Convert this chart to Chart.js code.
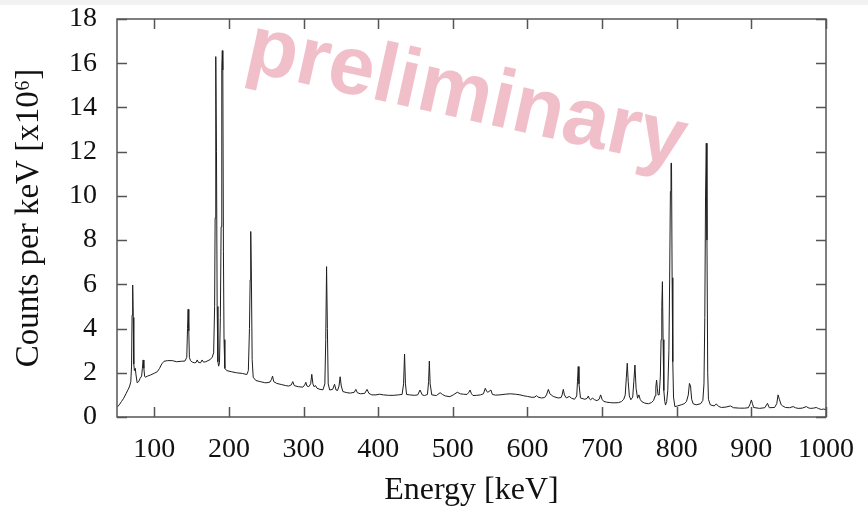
<!DOCTYPE html>
<html><head><meta charset="utf-8">
<script src="https://cdn.jsdelivr.net/npm/chart.js@4/dist/chart.umd.min.js"></script>
<style>html,body{margin:0;padding:0;background:#fff;overflow:hidden}#wrap{width:868px;height:510px}</style>
</head><body><div id="wrap"><canvas id="c" width="868" height="510"></canvas></div>
<script>
// Energy [keV] and counts per keV [x10^6]
const energy = [
50,53,56,59,62,65,67,68.5,69.5,70.2,71,71.8,72.5,73.3,74.5,75.5,77,79,81,83,84,85,86,87,88,91,95,100,104,107,110,113,118,124,130,136,141,143.5,144.5,145.3,146.2,147,148.5,151,154,156,157.5,159,162,164,166,169,172,175,177.5,179.5,180.8,181.5,182.1,182.6,183.3,184.2,185.2,186.2,187.3,188.5,189.5,190.4,191.1,191.8,192.6,193.4,194.5,197,203,210,218,224,226,227.5,228.4,229.2,230.1,231.1,232.5,236,242,248,
251,255,257,258.4,260,264,270,276,280,283.5,285.5,287.5,293,299,301.5,303,304.5,307,309.5,311,312.5,314,316,318,322,326,328.5,329.7,330.8,331.9,333,335,339,341.5,343.5,345.5,347.5,349,350.5,352.7,358,362.5,368,370,372,376,382,385,387.5,391.5,397,402,407,414,420,427,432,434,435.3,436.5,438,442,449,453,456,459,462,466,467.5,468.5,469.6,471.8,478,483,486,490,496,
500.5,506,510,514,519,521.5,523,525,527,532,537,541,543.5,545.5,547,551,553,557,563,570,577,584,590,595,600,606,610,612,614,619,623,625.5,628,630,634.5,641,645,646.5,648,649.5,652,656,659,663,666,667,668,669,671,677,680,681.5,683,684.6,687,690,693,696,698,700,702,706,711,716,722,726,729,731,732.5,733.7,735,736.5,738.5,741,742.5,744,745.5,747.5,749.3,
751,753,757,762,766,769,771,772,773,774,775,776.5,778,779,780,780.8,781.7,782.7,784,785,786.5,788,789.5,790.5,791.5,792.3,793,793.8,794.7,795.7,797.5,801,806,810,813,815.5,817,818.5,820,822,826,832,835,836.5,837.6,838.6,839.6,840.5,841.5,842.5,845,850,853,856,860,866,872,876,884,891,896,898.5,900,901.5,903,911,918,921.6,924,931,934,935.8,937.5,940,942,945.7,951,956,959,962.6,968,973.8,976,979,983,987,990,993.8,997,1000
];
const counts = [
0.44,0.55,0.7,0.85,1.05,1.25,1.4,1.6,2.3,4.6,5.97,4.5,2.4,2.1,2.2,1.9,1.55,1.6,1.75,1.85,2.2,2.58,2.2,1.85,1.8,1.85,1.9,1.98,2.05,2.2,2.4,2.52,2.55,2.55,2.5,2.52,2.53,2.7,4.0,4.87,3.9,2.7,2.55,2.48,2.45,2.47,2.58,2.47,2.45,2.58,2.48,2.5,2.55,2.6,2.7,2.9,5.0,9.0,14.5,16.3,12.0,5.0,2.5,2.3,2.45,4.5,8.6,15.8,16.57,15.7,7.5,3.5,2.2,2.1,2.05,2.0,1.97,1.92,2.1,4.0,6.2,8.39,6.2,2.6,1.8,1.65,1.6,1.55,
1.55,1.58,1.7,1.85,1.6,1.52,1.47,1.42,1.4,1.45,1.6,1.42,1.37,1.35,1.45,1.57,1.4,1.37,1.5,1.93,1.5,1.37,1.42,1.3,1.25,1.23,1.5,3.5,6.8,4.0,1.5,1.22,1.25,1.48,1.22,1.2,1.4,1.82,1.4,1.15,1.1,1.08,1.12,1.25,1.1,1.05,1.07,1.25,1.07,1.0,1.0,1.03,1.0,0.98,0.98,1.0,1.02,1.5,2.85,1.5,1.02,1.0,0.98,1.0,1.22,1.0,0.97,1.02,1.6,2.53,1.5,1.0,0.97,1.1,1.02,0.95,0.92,
1.0,1.12,1.05,1.03,1.02,1.12,1.22,1.05,0.97,0.98,1.0,1.05,1.3,1.15,1.12,1.22,1.02,0.99,1.0,1.03,1.05,1.03,1.0,0.96,0.93,0.89,0.9,0.97,0.9,0.86,0.88,1.0,1.25,1.05,0.93,0.86,0.88,1.0,1.25,1.0,0.86,0.93,0.85,0.8,0.95,1.6,2.28,1.5,0.86,0.8,0.85,0.95,0.82,0.77,0.86,0.78,0.74,0.8,1.0,0.8,0.71,0.67,0.65,0.64,0.65,0.7,0.8,1.0,1.8,2.43,1.6,0.95,0.78,0.9,1.6,2.35,1.3,0.85,1.0,
0.8,0.7,0.63,0.6,0.65,0.75,0.95,1.35,1.67,1.3,1.0,1.0,1.8,3.5,5.0,6.12,3.5,1.2,0.7,0.54,0.7,1.2,3.0,6.2,10.2,11.48,11.48,6.3,2.5,0.9,0.47,0.5,0.55,0.6,0.7,1.0,1.52,1.4,0.8,0.6,0.55,0.6,0.75,1.5,4.5,10.0,12.38,8.0,2.0,0.8,0.55,0.5,0.59,0.48,0.43,0.45,0.5,0.42,0.4,0.4,0.42,0.6,0.77,0.6,0.43,0.39,0.42,0.62,0.42,0.43,0.6,1.0,0.8,0.55,0.5,0.43,0.42,0.47,0.42,0.39,0.4,0.47,0.42,0.39,0.4,0.43,0.38,0.34,0.36,0.33
];
const xTickValues = [100,200,300,400,500,600,700,800,900,1000];
const yTickValues = [0,2,4,6,8,10,12,14,16,18];
const xTitle = 'Energy [keV]';
const yTitle = 'Counts per keV [x10\u2076]';
const watermark = 'preliminary';

const points = energy.map((e, i) => ({x: e, y: counts[i]}));

const framePlugin = {
  id: 'frame',
  beforeDraw(chart) {
    const ctx = chart.ctx;
    ctx.save();
    ctx.fillStyle = '#ffffff';
    ctx.fillRect(0, 0, chart.width, chart.height);
    ctx.fillStyle = '#f2f2f2';
    ctx.fillRect(0, 0, chart.width, 5);
    ctx.restore();
  },
  afterDraw(chart) {
    const ctx = chart.ctx;
    const a = chart.chartArea;
    const xs = chart.scales.x, ys = chart.scales.y;
    ctx.save();
    ctx.strokeStyle = '#555555';
    ctx.lineWidth = 1.5;
    ctx.beginPath();
    xTickValues.forEach(v => {
      const px = Math.round(xs.getPixelForValue(v)) + 0.5;
      ctx.moveTo(px, a.bottom); ctx.lineTo(px, a.bottom - 10);
      ctx.moveTo(px, a.top); ctx.lineTo(px, a.top + 10);
    });
    yTickValues.forEach(v => {
      const py = Math.round(ys.getPixelForValue(v)) + 0.5;
      ctx.moveTo(a.left, py); ctx.lineTo(a.left + 10, py);
      ctx.moveTo(a.right, py); ctx.lineTo(a.right - 10, py);
    });
    ctx.stroke();
    ctx.strokeRect(a.left, a.top, a.right - a.left, a.bottom - a.top);
    // watermark
    ctx.translate(243, 70);
    ctx.rotate(12.5 * Math.PI / 180);
    ctx.fillStyle = 'rgba(240,186,196,0.92)';
    ctx.font = 'bold 83px "Liberation Sans", Arial, sans-serif';
    ctx.textBaseline = 'alphabetic';
    ctx.textAlign = 'left';
    ctx.fillText(watermark, 0, 0);
    ctx.restore();
  }
};

const serif = '"Liberation Serif", "Times New Roman", serif';

new Chart(document.getElementById('c'), {
  type: 'line',
  data: {
    datasets: [{
      data: points,
      borderColor: '#1e1e1e',
      borderWidth: 1,
      pointRadius: 0,
      tension: 0,
      fill: false
    }]
  },
  options: {
    responsive: false,
    animation: false,
    devicePixelRatio: 1,
    layout: {padding: {left: 0, right: 42, top: 19, bottom: 0}},
    plugins: {legend: {display: false}, tooltip: {enabled: false}},
    scales: {
      x: {
        type: 'linear', min: 50, max: 1000,
        grid: {display: false, drawTicks: false},
        border: {display: false},
        afterBuildTicks: s => { s.ticks = xTickValues.map(v => ({value: v})); },
        afterFit: s => { s.height = 93; s.paddingLeft = 0; s.paddingRight = 0; },
        ticks: {font: {family: serif, size: 28}, color: '#111', padding: 16, maxRotation: 0, autoSkip: false,
                callback: v => String(v)},
        title: {display: true, text: xTitle, font: {family: serif, size: 32}, color: '#111', padding: {top: 0, bottom: 0}}
      },
      y: {
        type: 'linear', min: 0, max: 18,
        grid: {display: false, drawTicks: false},
        border: {display: false},
        afterBuildTicks: s => { s.ticks = yTickValues.map(v => ({value: v})); },
        afterFit: s => { s.width = 117; s.paddingTop = 0; s.paddingBottom = 0; },
        ticks: {font: {family: serif, size: 28}, color: '#111', padding: 20, callback: v => String(v)},
        title: {display: true, text: yTitle, font: {family: serif, size: 33}, color: '#111', padding: {top: 10, bottom: 0}}
      }
    }
  },
  plugins: [framePlugin]
});
</script>
</body></html>
